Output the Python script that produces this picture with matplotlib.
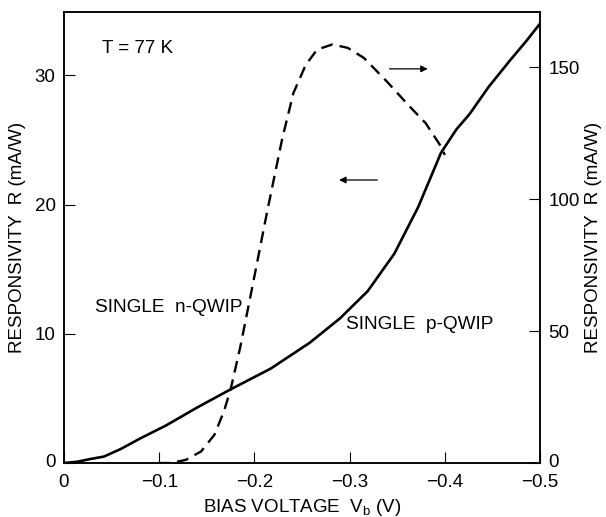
import matplotlib.pyplot as plt
import matplotlib.transforms as mtransforms

plt.rcParams['font.family'] = ['Liberation Sans', 'DejaVu Sans']

# single p-QWIP, left axis (mA/W)
p_bias = [0, -0.014, -0.027, -0.042, -0.06, -0.08, -0.107, -0.14, -0.175, -0.217,
          -0.258, -0.29, -0.319, -0.347, -0.372, -0.396, -0.412, -0.426, -0.446,
          -0.469, -0.485, -0.5]
p_resp = [0, 0.1, 0.3, 0.5, 1.1, 1.9, 2.9, 4.3, 5.7, 7.3,
          9.3, 11.2, 13.3, 16.2, 19.8, 24.0, 25.8, 27.0, 29.1,
          31.2, 32.6, 34.0]

# single n-QWIP, right axis (mA/W)
n_bias = [-0.099, -0.112, -0.128, -0.144, -0.158, -0.168, -0.175, -0.185, -0.197,
          -0.213, -0.229, -0.241, -0.254, -0.266, -0.282, -0.298, -0.315, -0.339,
          -0.363, -0.380, -0.396, -0.4]
n_resp = [0, 0, 1.2, 4.4, 10.7, 19.6, 27.9, 43.7, 65.3,
          94.6, 122.6, 140.3, 151, 156.8, 158.7, 157.4, 153.6, 144.7,
          135.2, 128.8, 120, 116.8]

x_ticks = [0, -0.1, -0.2, -0.3, -0.4, -0.5]
x_labels = ['0', '\u22120.1', '\u22120.2', '\u22120.3', '\u22120.4', '\u22120.5']
left_ticks = [0, 10, 20, 30]
right_ticks = [0, 50, 100, 150]

fig = plt.figure(figsize=(6.06, 5.17), dpi=100)
ax = fig.add_axes([0.1056, 0.1044, 0.7855, 0.8724])
ax2 = ax.twinx()

ax.plot(p_bias, p_resp, color='black', lw=1.9, solid_capstyle='round')
ax2.plot(n_bias, n_resp, color='black', lw=1.7, dashes=(5, 3))

ax.set_xlim(0, -0.5)
ax.set_ylim(0, 34.9)
ax2.set_ylim(0, 171)

ax.set_xticks(x_ticks)
ax.set_xticklabels(x_labels)
ax.set_yticks(left_ticks)
ax2.set_yticks(right_ticks)

for a in (ax, ax2):
    for s in a.spines.values():
        s.set_linewidth(1.1)
ax.tick_params(axis='both', direction='in', length=8, width=0.8, labelsize=13.5, pad=6)
ax.tick_params(axis='x', pad=8)
ax2.tick_params(axis='y', direction='in', length=8, width=0.8, labelsize=13.5, pad=6)

# lift the bottom labels of the y axes a little, as in the original
for a in (ax, ax2):
    lbl = a.get_yticklabels()[0]
    lbl.set_transform(lbl.get_transform() +
                      mtransforms.ScaledTranslation(0, 3 / 100, fig.dpi_scale_trans))

ax.set_xlabel('BIAS VOLTAGE  V$_\\mathregular{b}$ (V)', fontsize=13.5, labelpad=4)
ax.set_ylabel('RESPONSIVITY  R (mA/W)', fontsize=13.5, labelpad=6)
ax2.set_ylabel('RESPONSIVITY  R (mA/W)', fontsize=13.5, labelpad=4, rotation=90)

ax.text(0.08, 0.92, 'T = 77 K', transform=ax.transAxes, fontsize=13.5, va='center')
ax.text(0.065, 0.344, 'SINGLE  n-QWIP', transform=ax.transAxes, fontsize=13.7, va='center')
ax.text(0.592, 0.308, 'SINGLE  p-QWIP', transform=ax.transAxes, fontsize=13.7, va='center')

ax.annotate('', xy=(-0.385, 30.5), xytext=(-0.339, 30.5),
            arrowprops=dict(arrowstyle='-|>', color='black', lw=0.9, mutation_scale=10))
ax.annotate('', xy=(-0.286, 21.9), xytext=(-0.332, 21.9),
            arrowprops=dict(arrowstyle='-|>', color='black', lw=0.9, mutation_scale=10))

fig.savefig('out.png', dpi=100)
